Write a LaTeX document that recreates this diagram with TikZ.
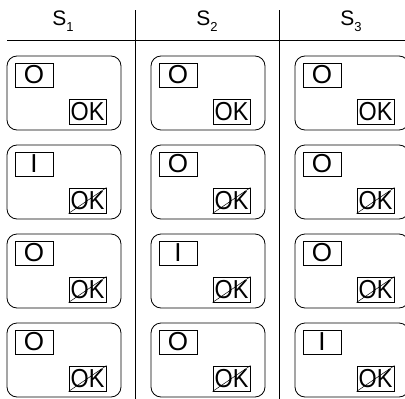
\documentclass[tikz,border=0pt]{standalone}
\usepackage{fontspec}
\setmainfont{Liberation Sans}
\usetikzlibrary{positioning}
\def\sub#1{\raisebox{-6pt}{\fontsize{13}{13}\selectfont #1}}

\begin{document}
\begin{tikzpicture}[x=1pt,y=-1pt,
  card/.style={draw,line width=0.8pt,rounded corners=10pt,minimum width=114pt,minimum height=74pt,inner sep=0pt},
  tag/.style={draw,line width=0.8pt,minimum width=38pt,minimum height=24pt,inner sep=0pt,font=\fontsize{26}{26}\selectfont},
  okbox/.style={draw,line width=0.8pt,minimum width=37pt,minimum height=25pt,inner sep=0pt,font=\fontsize{26}{26}\selectfont},
  head/.style={font=\fontsize{21}{21}\selectfont}]
  \useasboundingbox (0,0) rectangle (405,399);
  % column rules
  \coordinate (h0) at (7,40);
  \coordinate (h1) at (405,40);
  \coordinate (v1t) at (135,10);
  \coordinate (v1b) at (135,399);
  \coordinate (v2t) at (279,10);
  \coordinate (v2b) at (279,399);
  \draw[line width=0.8pt] (h0) -- (h1);
  \draw[line width=0.8pt] (v1t) -- (v1b);
  \draw[line width=0.8pt] (v2t) -- (v2b);
  \foreach \c in {1,2,3}{
    \pgfmathsetmacro\cx{64+144*(\c-1)}
    \node[head] (s\c) at (\cx-1,21) {S\sub{\c}};
    \foreach \r in {1,...,4}{
      \pgfmathsetmacro\cy{93+89*(\r-1)}
      \pgfmathtruncatemacro\hot{\c+1}
      \node[card] (c\c\r) at (\cx,\cy) {};
      \node[tag,below right=7pt and 8pt of c\c\r.north west,anchor=north west]
        (t\c\r) {\ifnum\r=\hot I\else O\fi};
      \node[okbox,above left=6pt and 15pt of c\c\r.south east,anchor=south east]
        (k\c\r) {\scalebox{0.9}[1]{OK}};
      \ifnum\r>1
        \draw[line width=0.5pt] (k\c\r.south west) -- (k\c\r.north east);
      \fi
    }
  }
\end{tikzpicture}
\end{document}
